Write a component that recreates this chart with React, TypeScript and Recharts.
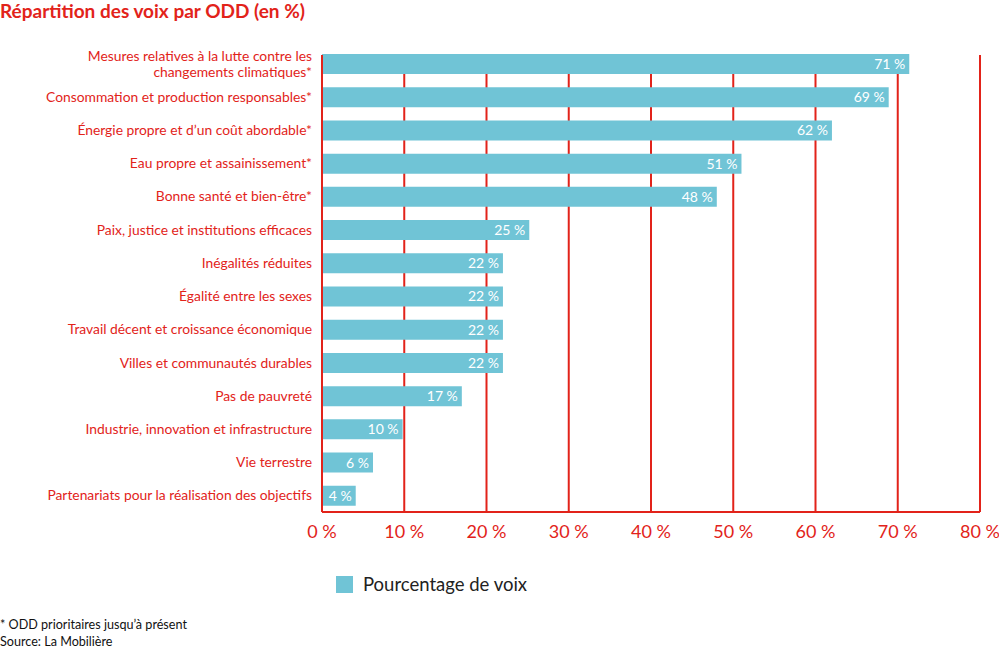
import { BarChart, Bar, XAxis, YAxis, CartesianGrid, LabelList } from 'recharts';

const categories = [
  'Mesures relatives à la lutte contre les\nchangements climatiques*',
  'Consommation et production responsables*',
  'Énergie propre et d’un coût abordable*',
  'Eau propre et assainissement*',
  'Bonne santé et bien-être*',
  'Paix, justice et institutions efficaces',
  'Inégalités réduites',
  'Égalité entre les sexes',
  'Travail décent et croissance économique',
  'Villes et communautés durables',
  'Pas de pauvreté',
  'Industrie, innovation et infrastructure',
  'Vie terrestre',
  'Partenariats pour la réalisation des objectifs',
];

const voteShares = [71.4, 68.9, 62, 51, 48, 25.2, 22, 22, 22, 22, 17, 9.8, 6.2, 4.1];

const xTicks = [0, 10, 20, 30, 40, 50, 60, 70, 80];

const RED = '#e2231a';
const BLUE = '#70c4d6';
const FONT = 'Lato, "Open Sans", sans-serif';

const data = categories.map((name, i) => ({ name, value: voteShares[i] }));

const CategoryTick = (props: any) => {
  const { x, y, payload } = props;
  const lines = String(payload.value).split('\n');
  const lh = 16;
  const startDy = -((lines.length - 1) * lh) / 2;
  return (
    <text x={x} y={y} textAnchor="end" fill={RED} fontSize={13.85} fontFamily={FONT}>
      {lines.map((l, i) => (
        <tspan key={i} x={x} dy={i === 0 ? startDy + 5 : lh}>
          {l}
        </tspan>
      ))}
    </text>
  );
};

export default function App() {
  return (
    <div style={{ position: 'absolute', left: 0, top: 0, width: 999, height: 650, background: '#fff', fontFamily: FONT }}>
      <div style={{ position: 'absolute', left: 0, top: -1, color: RED, fontWeight: 700, fontSize: 19, lineHeight: '24px' }}>
        Répartition des voix par ODD (en %)
      </div>
      <BarChart
        width={999}
        height={650}
        data={data}
        layout="vertical"
        margin={{ top: 55, right: 19, bottom: 108, left: 0 }}
        barSize={20}
      >
        <CartesianGrid horizontal={false} vertical stroke={RED} strokeWidth={2} />
        <XAxis
          type="number"
          domain={[0, 80]}
          ticks={xTicks}
          tickFormatter={(v) => `${v} %`}
          tickLine={false}
          axisLine={{ stroke: RED, strokeWidth: 2 }}
          tick={{ fill: RED, fontSize: 18, fontFamily: FONT }}
          tickMargin={7}
          height={30}
          interval={0}
        />
        <YAxis
          type="category"
          dataKey="name"
          width={322}
          padding={{ top: -8, bottom: 0 }}
          tickLine={false}
          axisLine={{ stroke: RED, strokeWidth: 2 }}
          tick={<CategoryTick />}
          tickMargin={4}
          interval={0}
        />
        <Bar dataKey="value" fill={BLUE} isAnimationActive={false}>
          <LabelList
            dataKey="value"
            position="insideRight"
            formatter={(v: any) => `${Math.round(Number(v))} %`}
            fill="#fff"
            fontSize={14}
            fontFamily={FONT}
            offset={4}
          />
        </Bar>
      </BarChart>
      <div style={{ position: 'absolute', left: 336, top: 573, display: 'flex', alignItems: 'center', fontSize: 18.5, color: '#222' }}>
        <span style={{ width: 17, height: 17, background: BLUE, display: 'inline-block', marginRight: 10 }} />
        Pourcentage de voix
      </div>
      <div style={{ position: 'absolute', left: 0, top: 616, fontSize: 12.6, lineHeight: '17px', color: '#111' }}>
        <div>* ODD prioritaires jusqu’à présent</div>
        <div>Source: La Mobilière</div>
      </div>
    </div>
  );
}
